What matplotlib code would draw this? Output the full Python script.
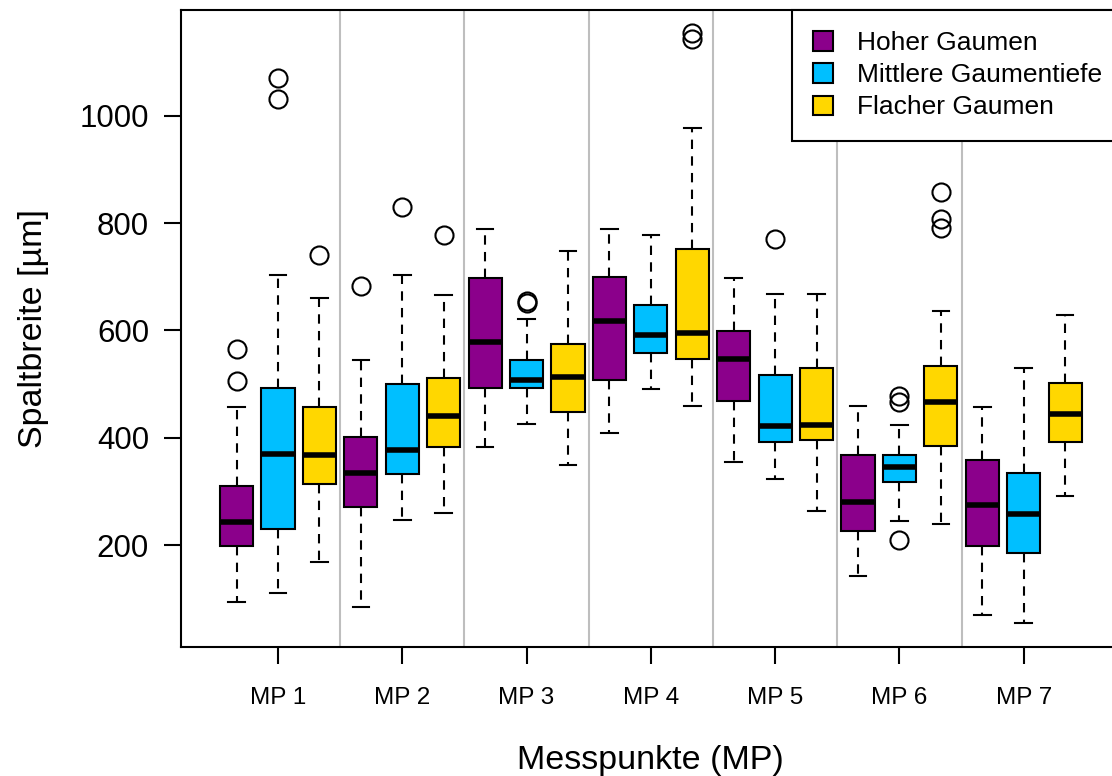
import matplotlib
matplotlib.use("Agg")
import matplotlib.pyplot as plt
from matplotlib.patches import Patch
import numpy as np

plt.rcParams['font.family'] = ['Liberation Sans', 'DejaVu Sans']

# Messpunkte und Gruppen
groups = ['MP 1', 'MP 2', 'MP 3', 'MP 4', 'MP 5', 'MP 6', 'MP 7']
series = ['Hoher Gaumen', 'Mittlere Gaumentiefe', 'Flacher Gaumen']
colors = ['#8B008B', '#00BFFF', '#FFD700']

# Hoher Gaumen
hoch_whislo = [94, 85, 382, 409, 355, 142, 70]
hoch_q1 = [198, 270, 492, 508, 468, 227, 198]
hoch_med = [243, 335, 578, 617, 546, 281, 274]
hoch_q3 = [310, 402, 698, 699, 598, 367, 359]
hoch_whishi = [458, 545, 789, 788, 698, 459, 458]
hoch_fliers = [[505, 566], [682], [], [], [], [], []]

# Mittlere Gaumentiefe
mitt_whislo = [110, 247, 425, 490, 323, 244, 54]
mitt_q1 = [229, 332, 492, 558, 392, 317, 185]
mitt_med = [369, 377, 508, 592, 422, 346, 258]
mitt_q3 = [493, 501, 545, 647, 517, 367, 334]
mitt_whishi = [704, 704, 622, 777, 668, 424, 529]
mitt_fliers = [[1031, 1071], [829], [651, 655], [], [770], [210, 466, 477], []]

# Flacher Gaumen
flach_whislo = [169, 260, 349, 460, 263, 240, 292]
flach_q1 = [314, 382, 447, 546, 395, 385, 392]
flach_med = [368, 441, 513, 595, 424, 466, 445]
flach_q3 = [458, 512, 574, 752, 529, 533, 502]
flach_whishi = [661, 666, 748, 977, 668, 636, 628]
flach_fliers = [[741], [778], [], [1143, 1155], [], [790, 808, 858], []]

yticks = [200, 400, 600, 800, 1000]

all_series = [
    (hoch_whislo, hoch_q1, hoch_med, hoch_q3, hoch_whishi, hoch_fliers),
    (mitt_whislo, mitt_q1, mitt_med, mitt_q3, mitt_whishi, mitt_fliers),
    (flach_whislo, flach_q1, flach_med, flach_q3, flach_whishi, flach_fliers),
]

fig = plt.figure(figsize=(11.12, 7.76), dpi=100)
# R-style plot region, right edge runs past the picture
ax = fig.add_axes([181 / 1112, 129 / 776, 939.6 / 1112, 637 / 776])

n_ser = len(series)
lw = 1.5

# grey separators between the Messpunkte
for g in range(1, len(groups)):
    ax.axvline(g * n_ser + 0.5, color='#BEBEBE', lw=1.5, zorder=0)

for s, (lo, q1, med, q3, hi, fl) in enumerate(all_series):
    stats = []
    for g in range(len(groups)):
        stats.append(dict(whislo=lo[g], q1=q1[g], med=med[g], q3=q3[g],
                          whishi=hi[g], fliers=np.array(fl[g])))
    pos = [g * n_ser + s + 1 for g in range(len(groups))]
    bp = ax.bxp(stats, positions=pos, widths=0.8, capwidths=0.4,
                patch_artist=True, showfliers=True, manage_ticks=False,
                boxprops=dict(facecolor=colors[s], edgecolor='black', linewidth=lw),
                medianprops=dict(color='black', linewidth=4.0, solid_capstyle='butt'),
                whiskerprops=dict(color='black', linewidth=lw, linestyle=(0, (4.5, 3.5))),
                capprops=dict(color='black', linewidth=lw),
                flierprops=dict(marker='o', markerfacecolor='none',
                                markeredgecolor='black', markersize=13,
                                markeredgewidth=lw))
    for b in bp['boxes']:
        b.set_zorder(2)

ax.set_xlim(-0.34, len(groups) * n_ser + 1.34)
ax.set_ylim(10, 1197)

ax.set_xticks([g * n_ser + 2 for g in range(len(groups))])
ax.set_xticklabels(groups, fontsize=17.5)
ax.set_yticks(yticks)
ax.set_yticklabels([str(v) for v in yticks], fontsize=22.5)
ax.tick_params(axis='y', length=12, width=lw, pad=11)
ax.tick_params(axis='x', length=12, width=lw, pad=17)

for sp in ax.spines.values():
    sp.set_linewidth(lw)

ax.set_xlabel('Messpunkte (MP)', fontsize=24.5, labelpad=26)
ax.set_ylabel('Spaltbreite [µm]', fontsize=24.5, labelpad=22)

handles = [Patch(facecolor=c, edgecolor='black', linewidth=lw) for c in colors]
leg = ax.legend(handles, series, loc='upper left', bbox_to_anchor=(611 / 939.6, 1.0),
                borderaxespad=0, fontsize=19, frameon=True, fancybox=False,
                handlelength=0.76, handleheight=0.76, handletextpad=0.9,
                labelspacing=0.31, borderpad=0.8)
leg.get_frame().set_edgecolor('black')
leg.get_frame().set_linewidth(lw)
leg.get_frame().set_alpha(1)

fig.savefig('out.png', dpi=100)
